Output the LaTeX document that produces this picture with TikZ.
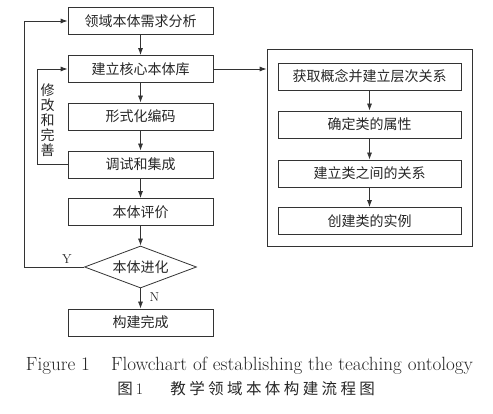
\documentclass[tikz,border=0pt]{standalone}
\usepackage{fontspec}
\usepackage{graphicx}
\newfontfamily\cjk{Noto Sans CJK SC}
\newfontfamily\cjkcap[LetterSpace=22]{Noto Sans CJK SC}
\usetikzlibrary{shapes.geometric,arrows.meta}
\begin{document}
\begin{tikzpicture}[x=1pt,y=-1pt,
  line width=0.8pt, draw=black!80,
  box/.style={draw=black!80, rectangle, minimum width=145pt, minimum height=27pt, inner sep=0pt,
    font=\cjk\fontsize{14}{14}\selectfont, text=black!85},
  rbox/.style={box, minimum width=183pt},
  dec/.style={draw=black!80, diamond, aspect=2.67, minimum width=112pt, minimum height=42pt, inner sep=0pt,
    font=\cjk\fontsize{14}{14}\selectfont, text=black!85},
  arr/.style={draw=black!80, -{Latex[length=7pt,width=5pt]}},
  lbl/.style={font=\fontsize{13}{13}\selectfont, text=black!85},
  captext/.style={inner sep=0pt, anchor=west, text=black!85}
]
\useasboundingbox (0,0) rectangle (493,414);
% left column
\node[box] (b1) at (140.5,21) {领域本体需求分析};
\node[box] (b2) at (140.5,69) {建立核心本体库};
\node[box] (b3) at (140.5,116.5) {形式化编码};
\node[box] (b4) at (140.5,164.5) {调试和集成};
\node[box] (b5) at (140.5,212) {本体评价};
\node[dec] (d) at (140.5,267) {本体进化};
\node[box] (b6) at (140.5,322.5) {构建完成};
\draw[arr] (b1) -- (b2);
\draw[arr] (b2) -- (b3);
\draw[arr] (b3) -- (b4);
\draw[arr] (b4) -- (b5);
\draw[arr] (b5) -- (d);
\draw[arr] (d) -- (b6);
\node[lbl, anchor=west] (nl) at (146,297) {N};
% outer loop
\coordinate (lo1) at (24,267);
\coordinate (lo2) at (24,21);
\draw[arr] (d.west) -- (lo1) -- (lo2) -- (b1.west);
\node[lbl] (yl) at (67,259) {Y};
% inner loop
\coordinate (li1) at (37,164.5);
\coordinate (li2) at (37,69);
\draw[arr] (b4.west) -- (li1) -- (li2) -- (b2.west);
\node[font=\cjk\fontsize{14}{15}\selectfont, text=black!85, align=center, inner sep=0pt] (vt) at (47.5,120) {修\\改\\和\\完\\善};
% right group
\node[draw=black!80, rectangle, minimum width=205pt, minimum height=197pt, inner sep=0pt] (g) at (369.5,147.5) {};
\node[rbox] (r1) at (369.5,76.5) {获取概念并建立层次关系};
\node[rbox] (r2) at (369.5,124.5) {确定类的属性};
\node[rbox] (r3) at (369.5,173.5) {建立类之间的关系};
\node[rbox] (r4) at (369.5,221) {创建类的实例};
\draw[arr] (r1) -- (r2);
\draw[arr] (r2) -- (r3);
\draw[arr] (r3) -- (r4);
\draw[arr] (b2.east) -- (b2.east -| g.west);
% caption
\node[inner sep=0pt, text=black!85] (c1) at (249.5,366) {\resizebox{447pt}{!}{\fontsize{17}{17}\selectfont Figure 1\hspace{1.1em}Flowchart of establishing the teaching ontology}};
\node[captext] (c2a) at (117,389) {{\cjk\fontsize{15.5}{15.5}\selectfont 图}\hspace{0.3em}{\fontsize{16}{16}\selectfont 1}};
\node[captext] (c2b) at (170,389) {\cjkcap\fontsize{15.5}{15.5}\selectfont 教学领域本体构建流程图};
\end{tikzpicture}
\end{document}
